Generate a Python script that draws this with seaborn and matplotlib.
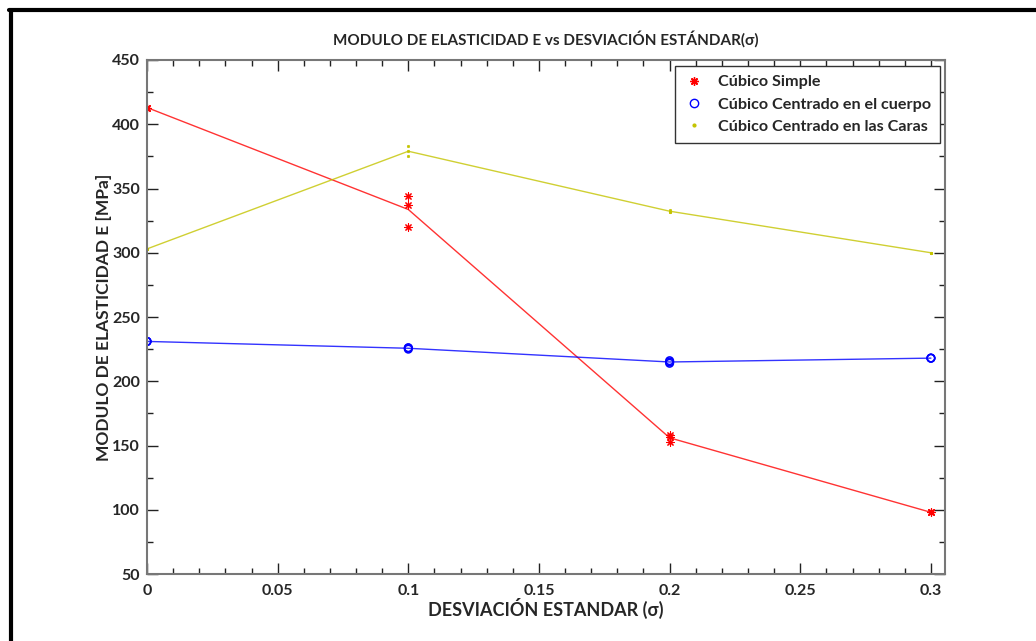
import numpy as np
import pandas as pd
import matplotlib
matplotlib.use("Agg")
import matplotlib.pyplot as plt
import seaborn as sns
from matplotlib.lines import Line2D

# valores (3 replicas por punto)
sigma = [0, 0.1, 0.2, 0.3]
cs = [[413, 413, 413], [344, 337, 320], [158, 157, 153], [98, 98, 98]]
ccc = [[231, 231, 231], [226, 225, 226], [216, 215, 214], [218, 218, 218]]
ccca = [[303, 303, 303], [383, 379, 375], [333, 332, 332], [300, 300, 300]]
nombres = ["Cúbico Simple", "Cúbico Centrado en el cuerpo", "Cúbico Centrado en las Caras"]
colores = ["#ff0000", "#0000ff", "#c4c400"]
marcadores = [(8, 2, 0), "o", "."]

filas = []
for nombre, serie in zip(nombres, [cs, ccc, ccca]):
    for s, reps in zip(sigma, serie):
        for v in reps:
            filas.append({"sigma": s, "E": v, "estructura": nombre})
df = pd.DataFrame(filas)

sns.set_style("ticks")
plt.rcParams['font.family'] = ['Lato', 'DejaVu Sans']
plt.rcParams['font.weight'] = 'bold'

fig = plt.figure(figsize=(10.36, 6.41), dpi=100)
ax = fig.add_axes([0.1419, 0.1045, 0.9122 - 0.1419, 0.9064 - 0.1045])

pal = dict(zip(nombres, colores))
sns.lineplot(data=df, x="sigma", y="E", hue="estructura", palette=pal,
             estimator="mean", errorbar=None, linewidth=1, alpha=0.8,
             legend=False, ax=ax)
for nombre, m in zip(nombres, marcadores):
    sub = df[df["estructura"] == nombre]
    if m == "o":
        kw = dict(facecolor="none", edgecolor=pal[nombre], s=30, linewidth=1.1)
    elif m == ".":
        kw = dict(color=pal[nombre], edgecolor=pal[nombre], s=12, linewidth=0.5)
    else:
        kw = dict(color=pal[nombre], edgecolor=pal[nombre], s=28, linewidth=0.8)
    sns.scatterplot(data=sub, x="sigma", y="E", marker=m, ax=ax, **kw)

ax.set_xlim(0, 0.3054)
ax.set_ylim(50, 450)
ax.set_xticks([0, 0.05, 0.1, 0.15, 0.2, 0.25, 0.3])
ax.set_xticklabels(["0", "0.05", "0.1", "0.15", "0.2", "0.25", "0.3"])
ax.set_yticks(np.arange(50, 451, 50))
ax.set_xticks(np.arange(0, 0.305, 0.01), minor=True)
ax.set_yticks(np.arange(50, 451, 25), minor=True)
ax.tick_params(which="major", direction="in", length=8, width=1, color="#222222",
               top=True, right=True, labelsize=11.5, pad=5)
ax.tick_params(axis="x", which="major", pad=7)
ax.tick_params(which="minor", direction="in", length=4, width=1, color="#222222",
               top=True, right=True)
for lab in ax.get_xticklabels() + ax.get_yticklabels():
    lab.set_fontweight("bold")
for sp in ax.spines.values():
    sp.set_color("#777777")
    sp.set_linewidth(1.5)

ax.set_title("MODULO DE ELASTICIDAD E vs DESVIACIÓN ESTÁNDAR(σ)",
             fontsize=11, fontweight="bold", pad=11)
ax.set_xlabel("DESVIACIÓN ESTANDAR (σ)", fontsize=13, fontweight="bold", labelpad=0)
ax.set_ylabel("MODULO DE ELASTICIDAD E [MPa]", fontsize=12.5, fontweight="bold", labelpad=0)

handles = []
for nombre, m, c in zip(nombres, marcadores, colores):
    if m == "o":
        h = Line2D([], [], linestyle="none", marker="o", markerfacecolor="none",
                   markeredgecolor=c, markersize=6)
    elif m == ".":
        h = Line2D([], [], linestyle="none", marker=".", color=c, markersize=4)
    else:
        h = Line2D([], [], linestyle="none", marker=m, color=c, markersize=6)
    handles.append(h)
leg = ax.legend(handles, nombres, loc="upper right", bbox_to_anchor=(0.9937, 0.988),
                borderaxespad=0, frameon=True, fancybox=False, edgecolor="#333333",
                framealpha=1, prop={"size": 11.6, "weight": "bold"}, handlelength=1.2,
                handletextpad=0.9, borderpad=0.55, labelspacing=0.5)
leg.get_frame().set_linewidth(1)

# marco negro de la figura
fig.add_artist(Line2D([0.009, 1.0], [0.9844, 0.9844], color="black", linewidth=3,
                      transform=fig.transFigure))
fig.add_artist(Line2D([0.0106, 0.0106], [0.0, 0.9844], color="black", linewidth=3,
                      transform=fig.transFigure))

fig.savefig("out.png", dpi=100, facecolor="white")
